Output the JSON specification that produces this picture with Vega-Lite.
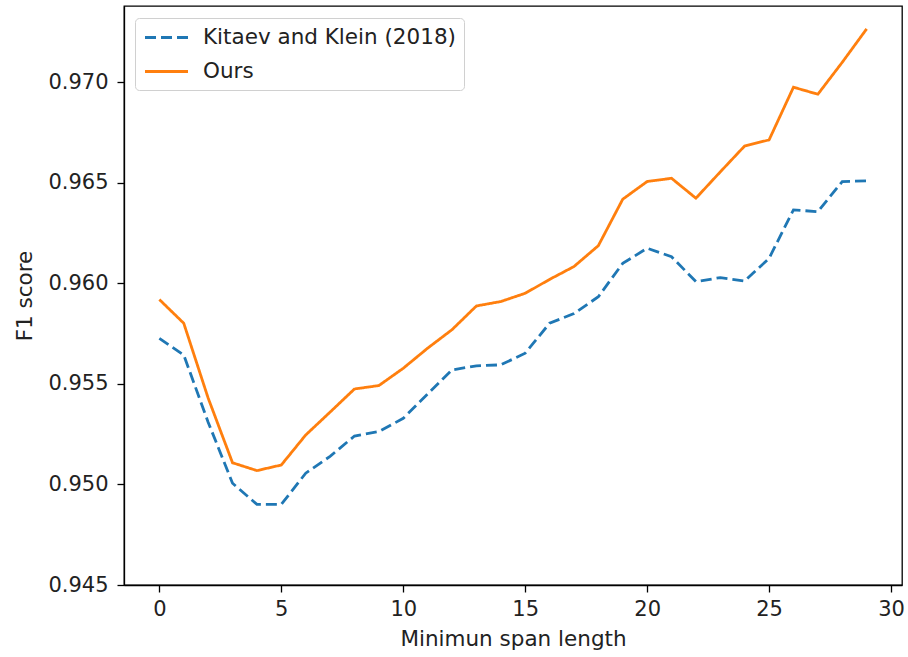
{
  "$schema": "https://vega.github.io/schema/vega-lite/v6.json",
  "autosize": "none",
  "width": 778,
  "height": 579,
  "padding": {"left": 124, "top": 6, "right": 6, "bottom": 72},
  "background": "white",
  "config": {
    "font": "DejaVu Sans",
    "view": {"stroke": "black", "strokeWidth": 1.3},
    "axis": {
      "grid": false,
      "domainColor": "black",
      "domainWidth": 1.3,
      "tickColor": "black",
      "tickWidth": 1.3,
      "tickSize": 7,
      "labelFont": "DejaVu Sans",
      "labelFontSize": 21,
      "labelColor": "#222",
      "titleFont": "DejaVu Sans",
      "titleFontSize": 21.5,
      "titleFontWeight": "normal",
      "titleColor": "#222"
    }
  },
  "data": {
    "values": [
      {"span": 0, "model": "Kitaev and Klein (2018)", "f1": 0.95727},
      {"span": 1, "model": "Kitaev and Klein (2018)", "f1": 0.95644},
      {"span": 2, "model": "Kitaev and Klein (2018)", "f1": 0.9531},
      {"span": 3, "model": "Kitaev and Klein (2018)", "f1": 0.95006},
      {"span": 4, "model": "Kitaev and Klein (2018)", "f1": 0.94901},
      {"span": 5, "model": "Kitaev and Klein (2018)", "f1": 0.94901},
      {"span": 6, "model": "Kitaev and Klein (2018)", "f1": 0.95056},
      {"span": 7, "model": "Kitaev and Klein (2018)", "f1": 0.9514},
      {"span": 8, "model": "Kitaev and Klein (2018)", "f1": 0.95241},
      {"span": 9, "model": "Kitaev and Klein (2018)", "f1": 0.95263},
      {"span": 10, "model": "Kitaev and Klein (2018)", "f1": 0.95329},
      {"span": 11, "model": "Kitaev and Klein (2018)", "f1": 0.9545},
      {"span": 12, "model": "Kitaev and Klein (2018)", "f1": 0.9557},
      {"span": 13, "model": "Kitaev and Klein (2018)", "f1": 0.9559},
      {"span": 14, "model": "Kitaev and Klein (2018)", "f1": 0.95595},
      {"span": 15, "model": "Kitaev and Klein (2018)", "f1": 0.95653},
      {"span": 16, "model": "Kitaev and Klein (2018)", "f1": 0.95802},
      {"span": 17, "model": "Kitaev and Klein (2018)", "f1": 0.9585},
      {"span": 18, "model": "Kitaev and Klein (2018)", "f1": 0.95934},
      {"span": 19, "model": "Kitaev and Klein (2018)", "f1": 0.961},
      {"span": 20, "model": "Kitaev and Klein (2018)", "f1": 0.96175},
      {"span": 21, "model": "Kitaev and Klein (2018)", "f1": 0.96133},
      {"span": 22, "model": "Kitaev and Klein (2018)", "f1": 0.96009},
      {"span": 23, "model": "Kitaev and Klein (2018)", "f1": 0.96029},
      {"span": 24, "model": "Kitaev and Klein (2018)", "f1": 0.96012},
      {"span": 25, "model": "Kitaev and Klein (2018)", "f1": 0.96125},
      {"span": 26, "model": "Kitaev and Klein (2018)", "f1": 0.96366},
      {"span": 27, "model": "Kitaev and Klein (2018)", "f1": 0.96357},
      {"span": 28, "model": "Kitaev and Klein (2018)", "f1": 0.96507},
      {"span": 29, "model": "Kitaev and Klein (2018)", "f1": 0.9651},
      {"span": 0, "model": "Ours", "f1": 0.9592},
      {"span": 1, "model": "Ours", "f1": 0.95802},
      {"span": 2, "model": "Ours", "f1": 0.9543},
      {"span": 3, "model": "Ours", "f1": 0.95108},
      {"span": 4, "model": "Ours", "f1": 0.95069},
      {"span": 5, "model": "Ours", "f1": 0.95097},
      {"span": 6, "model": "Ours", "f1": 0.95246},
      {"span": 7, "model": "Ours", "f1": 0.9536},
      {"span": 8, "model": "Ours", "f1": 0.95475},
      {"span": 9, "model": "Ours", "f1": 0.95492},
      {"span": 10, "model": "Ours", "f1": 0.95578},
      {"span": 11, "model": "Ours", "f1": 0.95678},
      {"span": 12, "model": "Ours", "f1": 0.9577},
      {"span": 13, "model": "Ours", "f1": 0.95888},
      {"span": 14, "model": "Ours", "f1": 0.9591},
      {"span": 15, "model": "Ours", "f1": 0.95951},
      {"span": 16, "model": "Ours", "f1": 0.9602},
      {"span": 17, "model": "Ours", "f1": 0.96084},
      {"span": 18, "model": "Ours", "f1": 0.96188},
      {"span": 19, "model": "Ours", "f1": 0.96419},
      {"span": 20, "model": "Ours", "f1": 0.96507},
      {"span": 21, "model": "Ours", "f1": 0.96523},
      {"span": 22, "model": "Ours", "f1": 0.96424},
      {"span": 23, "model": "Ours", "f1": 0.96555},
      {"span": 24, "model": "Ours", "f1": 0.96684},
      {"span": 25, "model": "Ours", "f1": 0.96714},
      {"span": 26, "model": "Ours", "f1": 0.96976},
      {"span": 27, "model": "Ours", "f1": 0.96941},
      {"span": 28, "model": "Ours", "f1": 0.971},
      {"span": 29, "model": "Ours", "f1": 0.97266}
    ]
  },
  "mark": {"type": "line", "strokeWidth": 2.8, "clip": true},
  "encoding": {
    "x": {
      "field": "span",
      "type": "quantitative",
      "scale": {"domain": [-1.45, 30.45], "nice": false, "zero": false},
      "axis": {"values": [0, 5, 10, 15, 20, 25, 30], "title": "Minimun span length", "titlePadding": 9, "labelPadding": 6}
    },
    "y": {
      "field": "f1",
      "type": "quantitative",
      "scale": {"domain": [0.945, 0.9738], "nice": false, "zero": false},
      "axis": {"values": [0.945, 0.95, 0.955, 0.96, 0.965, 0.97], "format": ".3f", "title": "F1 score", "titlePadding": 11, "labelPadding": 9}
    },
    "color": {
      "field": "model",
      "type": "nominal",
      "scale": {"domain": ["Kitaev and Klein (2018)", "Ours"], "range": ["#1f77b4", "#ff7f0e"]},
      "legend": {
        "title": null,
        "orient": "none",
        "legendX": 11,
        "legendY": 12,
        "padding": 8,
        "fillColor": "white",
        "strokeColor": "#d0d0d0",
        "cornerRadius": 4,
        "symbolType": "M-2.15,0H2.15",
        "symbolSize": 400,
        "symbolOffset": 12,
        "symbolStrokeWidth": 2.8,
        "rowPadding": 12,
        "labelFontSize": 21.5,
        "labelLimit": 400,
        "labelFont": "DejaVu Sans",
        "labelColor": "#222",
        "labelOffset": 25
      }
    },
    "strokeDash": {
      "field": "model",
      "type": "nominal",
      "scale": {"domain": ["Kitaev and Klein (2018)", "Ours"], "range": [[11, 5], [1, 0]]},
      "legend": null
    }
  }
}
